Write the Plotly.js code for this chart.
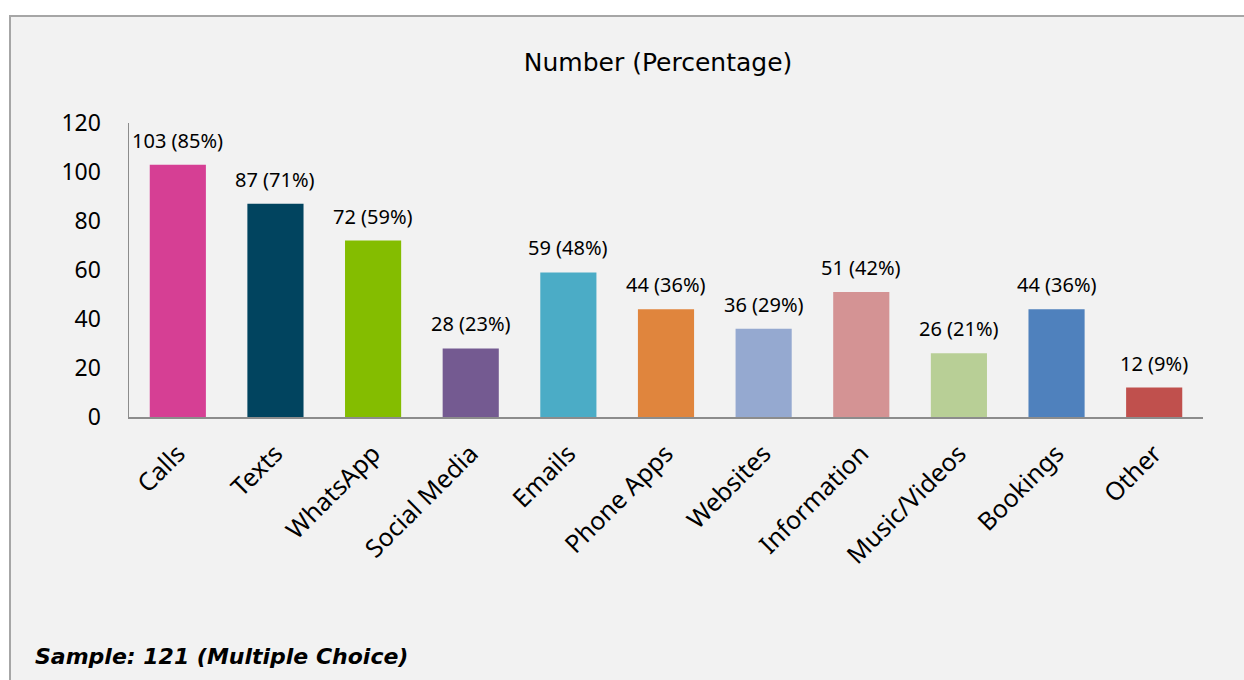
<!DOCTYPE html>
<html>
<head>
<meta charset="utf-8">
<script src="https://cdn.plot.ly/plotly-3.0.1.min.js"></script>
<style>
  html, body { margin: 0; padding: 0; background: #ffffff; overflow: hidden; width: 1244px; height: 680px; }
  #frame { position: absolute; left: 9px; top: 15px; width: 1300px; height: 720px; border: 2px solid #A6A6A6; background: #F2F2F2; }
  #chart { position: absolute; left: 0; top: 0; width: 1244px; height: 680px; }
</style>
</head>
<body>
<div id="frame"></div>
<div id="chart"></div>
<script>
const categories = ["Calls", "Texts", "WhatsApp", "Social Media", "Emails", "Phone Apps", "Websites", "Information", "Music/Videos", "Bookings", "Other"];
const counts = [103, 87, 72, 28, 59, 44, 36, 51, 26, 44, 12];
const percents = [85, 71, 59, 23, 48, 36, 29, 42, 21, 36, 9];
const barColors = ["#D63F94", "#01445F", "#84BD00", "#745A91", "#4BACC6", "#E0853D", "#95A9D0", "#D49394", "#B8CF96", "#4F81BD", "#C0504D"];
const yTicks = [0, 20, 40, 60, 80, 100, 120];

const labels = counts.map((c, i) => c + " (" + percents[i] + "%)");

const trace = {
  type: "bar",
  x: categories,
  y: counts,
  marker: { color: barColors },
  hoverinfo: "none"
};

const annotations = categories.map((c, i) => ({
  x: c, y: counts[i], xref: "x", yref: "y",
  text: labels[i], showarrow: false,
  yanchor: "bottom", yshift: 9,
  font: { family: "Noto Sans", size: 20, color: "#000000" }
}));

annotations.push({
  xref: "paper", yref: "paper",
  x: -0.0894, y: -0.813, xanchor: "left", yanchor: "middle",
  text: "<b><i>Sample: 121 (Multiple Choice)</i></b>",
  showarrow: false,
  font: { family: "DejaVu Sans", size: 22, color: "#000000" }
});

const layout = {
  width: 1244, height: 680,
  paper_bgcolor: "rgba(0,0,0,0)",
  plot_bgcolor: "rgba(0,0,0,0)",
  margin: { l: 129, r: 41, t: 123, b: 263 },
  bargap: 0.425,
  showlegend: false,
  title: {
    text: "Number (Percentage)",
    xref: "container", yref: "container",
    x: 0.529, y: 0.909, xanchor: "center", yanchor: "middle",
    font: { family: "DejaVu Sans", size: 25, color: "#000000" }
  },
  xaxis: {
    type: "category",
    showline: true, linecolor: "#8C8C8C", linewidth: 2,
    showgrid: false, zeroline: false,
    tickangle: -45,
    ticks: "outside", ticklen: 10, tickcolor: "rgba(0,0,0,0)",
    tickfont: { family: "Noto Sans", size: 25, color: "#000000" }
  },
  yaxis: {
    range: [0, 120],
    tickvals: yTicks,
    showline: true, linecolor: "#8C8C8C", linewidth: 1.5,
    showgrid: false, zeroline: false,
    ticks: "outside", ticklen: 22, tickcolor: "rgba(0,0,0,0)",
    tickfont: { family: "Noto Sans", size: 23, color: "#000000" }
  },
  annotations: annotations
};

Plotly.newPlot("chart", [trace], layout, { staticPlot: true, displayModeBar: false });
</script>
</body>
</html>
